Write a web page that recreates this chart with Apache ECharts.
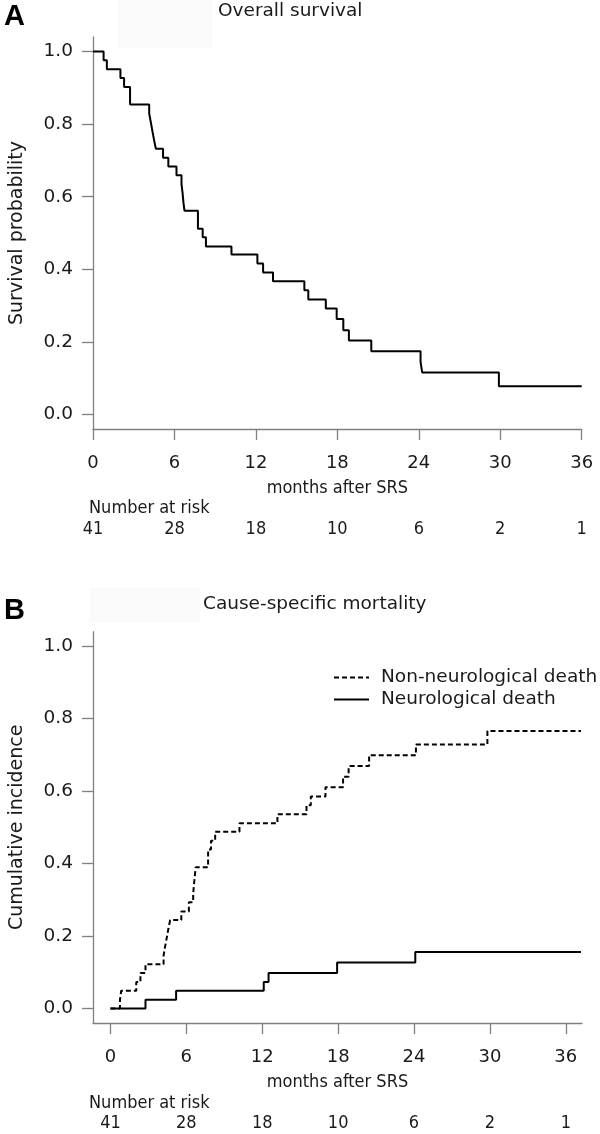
<!DOCTYPE html>
<html>
<head>
<meta charset="utf-8">
<script src="https://cdn.jsdelivr.net/npm/echarts@6/dist/echarts.min.js"></script>
<style>
html,body{margin:0;padding:0;background:#fff;}
#c{width:600px;height:1134px;}
</style>
</head>
<body>
<div id="c"></div>
<script>
// ---- Data ----
const xTicks = [0, 6, 12, 18, 24, 30, 36];
const yTicks = [0, 0.2, 0.4, 0.6, 0.8, 1.0];
const riskA = [41, 28, 18, 10, 6, 2, 1];
const riskB = [41, 28, 18, 10, 6, 2, 1];

// Panel A: overall survival (Kaplan-Meier)
const timesA = [0, 0.78, 1.02, 2.02, 2.29, 2.73, 4.14, 4.26, 4.38, 4.5, 4.63, 5.16, 5.55, 6.15, 6.52, 6.6, 6.66, 6.74, 7.73, 8.08, 8.32, 10.2, 12.11, 12.53, 13.26, 15.57, 15.86, 17.15, 17.95, 18.44, 18.85, 20.5, 24.13, 24.25, 29.9, 36];
const survA  = [1.0, 0.976, 0.951, 0.927, 0.902, 0.854, 0.829, 0.805, 0.780, 0.756, 0.732, 0.707, 0.683, 0.659, 0.634, 0.610, 0.585, 0.561, 0.512, 0.488, 0.463, 0.441, 0.416, 0.391, 0.367, 0.342, 0.317, 0.292, 0.263, 0.232, 0.204, 0.174, 0.144, 0.116, 0.078, 0.078];

// Panel B: cumulative incidence
const timesNonNeuro = [0, 0.75, 0.85, 2.04, 2.37, 2.77, 4.2, 4.32, 4.45, 4.58, 4.72, 5.6, 6.2, 6.54, 6.6, 6.67, 6.74, 7.72, 7.95, 8.28, 10.2, 13.2, 15.5, 15.84, 17.0, 18.39, 18.83, 20.45, 24.15, 29.8, 37.2];
const cifNonNeuro   = [0, 0.024, 0.049, 0.073, 0.098, 0.122, 0.146, 0.171, 0.195, 0.220, 0.244, 0.268, 0.293, 0.317, 0.341, 0.366, 0.390, 0.439, 0.463, 0.488, 0.511, 0.536, 0.561, 0.585, 0.611, 0.640, 0.669, 0.699, 0.729, 0.766, 0.766];
const timesNeuro = [0, 2.77, 5.19, 12.12, 12.5, 17.92, 24.1, 37.2];
const cifNeuro   = [0, 0.024, 0.049, 0.0735, 0.098, 0.127, 0.156, 0.156];

const seriesNames = ['Non-neurological death', 'Neurological death'];

// ---- Build ----
const zip = (a, b) => a.map((v, i) => [v, b[i]]);
const FONT = 'DejaVu Sans';
const FONT_C = '"DejaVu Sans Condensed", "DejaVu Sans"';
const AX = '#808080';

function yAxisDef(grid, name) {
  return {
    type: 'value', gridIndex: grid, min: -0.04, max: 1.04,
    axisLine: { show: true, onZero: false, lineStyle: { color: AX, width: 1.3 } },
    axisTick: { show: true, length: 11, lineStyle: { color: AX, width: 1.3 }, customValues: yTicks },
    axisLabel: { margin: 20, fontSize: 18.5, fontFamily: FONT, color: '#1a1a1a',
                 customValues: yTicks, formatter: v => v.toFixed(1) },
    splitLine: { show: false },
    name: name, nameLocation: 'middle', nameRotate: 90, nameGap: 66,
    nameTextStyle: { fontSize: 19, fontFamily: FONT, color: '#1a1a1a' }
  };
}
function xAxisDef(grid, min, max) {
  return {
    type: 'value', gridIndex: grid, min: min, max: max,
    axisLine: { show: true, onZero: false, lineStyle: { color: AX, width: 1.3 } },
    axisTick: { show: true, length: 11, lineStyle: { color: AX, width: 1.3 }, customValues: xTicks },
    axisLabel: { margin: 25, fontSize: 18, fontFamily: FONT, color: '#1a1a1a', customValues: xTicks },
    splitLine: { show: false },
    name: 'months after SRS', nameLocation: 'middle', nameGap: 50,
    nameTextStyle: { fontSize: 18, fontFamily: FONT_C, color: '#1a1a1a' }
  };
}
function riskAxisDef(grid, min, max, risk) {
  return {
    type: 'value', gridIndex: grid, min: min, max: max, position: 'bottom',
    axisLine: { show: false }, axisTick: { show: false }, splitLine: { show: false },
    axisLabel: { margin: 91, fontSize: 18, fontFamily: FONT_C, color: '#1a1a1a',
                 customValues: xTicks, formatter: v => String(risk[xTicks.indexOf(Math.round(v))]) }
  };
}

const chart = echarts.init(document.getElementById('c'), null, { renderer: 'canvas' });
const BXMIN = -1.38, BXMAX = 37.28;
chart.setOption({
  animation: false,
  backgroundColor: '#fff',
  grid: [
    { left: 88, top: 37, width: 493.7, height: 392 },
    { left: 88, top: 631.7, width: 494, height: 391.3 }
  ],
  xAxis: [
    xAxisDef(0, 0, 36),
    xAxisDef(1, BXMIN, BXMAX),
    riskAxisDef(0, 0, 36, riskA),
    riskAxisDef(1, BXMIN, BXMAX, riskB)
  ],
  yAxis: [
    yAxisDef(0, 'Survival probability'),
    yAxisDef(1, 'Cumulative incidence')
  ],
  legend: {
    data: seriesNames, orient: 'vertical', left: 333, top: 668, padding: 0,
    itemWidth: 35, itemHeight: 14, itemGap: 3,
    itemStyle: { opacity: 0 },
    textStyle: { fontSize: 18.5, fontFamily: FONT, color: '#1a1a1a', padding: [0, 0, 0, 7] }
  },
  series: [
    { name: 'Overall survival', type: 'line', xAxisIndex: 0, yAxisIndex: 0, step: 'end',
      symbol: 'none', data: zip(timesA, survA), lineStyle: { color: '#000', width: 2 } },
    { name: seriesNames[0], type: 'line', xAxisIndex: 1, yAxisIndex: 1, step: 'end',
      symbol: 'none', data: zip(timesNonNeuro, cifNonNeuro), color: '#000',
      lineStyle: { color: '#000', width: 2, type: [5, 3] } },
    { name: seriesNames[1], type: 'line', xAxisIndex: 1, yAxisIndex: 1, step: 'end',
      symbol: 'none', data: zip(timesNeuro, cifNeuro), color: '#000',
      lineStyle: { color: '#000', width: 2 } }
  ],
  graphic: [
    { type: 'rect', shape: { x: 118, y: 0, width: 94, height: 48 }, style: { fill: '#fafafa' }, z: -10 },
    { type: 'rect', shape: { x: 90, y: 588, width: 110, height: 34 }, style: { fill: '#fafafa' }, z: -10 },
    { type: 'text', x: 4, y: 17, style: { text: 'A', font: 'bold 29px "Liberation Sans", Arial', fill: '#000', verticalAlign: 'middle' } },
    { type: 'text', x: 4, y: 611, style: { text: 'B', font: 'bold 29px "Liberation Sans", Arial', fill: '#000', verticalAlign: 'middle' } },
    { type: 'text', x: 218, y: 11, style: { text: 'Overall survival', font: '18.5px "DejaVu Sans"', fill: '#1a1a1a', verticalAlign: 'middle' } },
    { type: 'text', x: 203, y: 604, style: { text: 'Cause-specific mortality', font: '18.5px "DejaVu Sans"', fill: '#1a1a1a', verticalAlign: 'middle' } },
    { type: 'text', x: 89, y: 508, style: { text: 'Number at risk', font: '18px "DejaVu Sans Condensed", "DejaVu Sans"', fill: '#1a1a1a', verticalAlign: 'middle' } },
    { type: 'text', x: 89, y: 1103, style: { text: 'Number at risk', font: '18px "DejaVu Sans Condensed", "DejaVu Sans"', fill: '#1a1a1a', verticalAlign: 'middle' } }
  ]
});
</script>
</body>
</html>
